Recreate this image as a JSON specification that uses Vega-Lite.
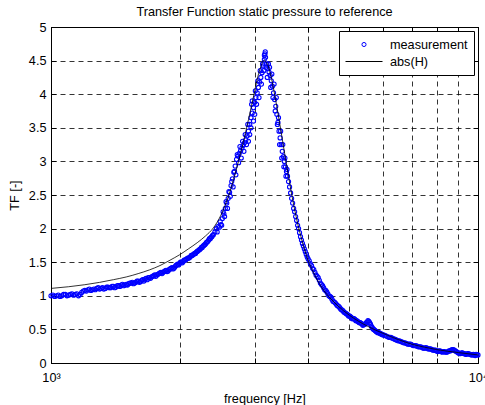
{
  "$schema": "https://vega.github.io/schema/vega-lite/v6.json",
  "width": 427,
  "height": 336,
  "autosize": {"type": "none"},
  "padding": {"left": 51, "top": 27, "right": 7, "bottom": 42},
  "background": "white",
  "title": {"text": "Transfer Function static pressure to reference", "fontSize": 12.7, "fontWeight": "normal", "font": "Liberation Sans", "color": "black", "offset": 2, "anchor": "middle"},
  "config": {
    "font": "Liberation Sans",
    "view": {"stroke": "black", "strokeWidth": 1},
    "axis": {
      "labelFont": "Liberation Sans", "titleFont": "Liberation Sans",
      "labelFontSize": 12.7, "titleFontSize": 12.7, "titleFontWeight": "normal",
      "labelColor": "black", "titleColor": "black",
      "domainColor": "black", "tickColor": "black", "tickSize": -5, "tickWidth": 1,
      "gridColor": "#000000", "gridDash": [5, 4], "gridWidth": 0.8, "gridOpacity": 1,
      "labelOverlap": false, "labelFlush": false
    }
  },
  "datasets": {
    "meas": [
      {"f":1000,"v":1.00},{"f":1020,"v":0.99},{"f":1040,"v":1.01},{"f":1060,"v":1.00},{"f":1080,"v":1.02},{"f":1100,"v":1.01},{"f":1120,"v":1.03},{"f":1140,"v":1.02},{"f":1160,"v":1.00},{"f":1180,"v":1.05},
      {"f":1200,"v":1.08},{"f":1220,"v":1.09},{"f":1240,"v":1.08},{"f":1260,"v":1.10},{"f":1280,"v":1.11},{"f":1300,"v":1.10},{"f":1320,"v":1.12},{"f":1340,"v":1.11},{"f":1360,"v":1.13},{"f":1380,"v":1.12},
      {"f":1400,"v":1.14},{"f":1420,"v":1.13},{"f":1440,"v":1.15},{"f":1460,"v":1.16},{"f":1480,"v":1.15},{"f":1500,"v":1.17},{"f":1520,"v":1.18},{"f":1540,"v":1.19},{"f":1560,"v":1.18},{"f":1580,"v":1.20},
      {"f":1600,"v":1.22},{"f":1620,"v":1.21},{"f":1640,"v":1.24},{"f":1660,"v":1.25},{"f":1680,"v":1.24},{"f":1700,"v":1.27},{"f":1720,"v":1.28},{"f":1740,"v":1.30},{"f":1760,"v":1.29},{"f":1780,"v":1.32},
      {"f":1800,"v":1.34},{"f":1820,"v":1.33},{"f":1840,"v":1.36},{"f":1860,"v":1.38},{"f":1880,"v":1.37},{"f":1900,"v":1.40},{"f":1920,"v":1.42},{"f":1940,"v":1.41},{"f":1960,"v":1.45},{"f":1980,"v":1.47},
      {"f":2000,"v":1.48},{"f":2020,"v":1.50},{"f":2040,"v":1.51},{"f":2060,"v":1.53},{"f":2080,"v":1.55},{"f":2100,"v":1.56},{"f":2120,"v":1.58},{"f":2140,"v":1.60},{"f":2160,"v":1.62},{"f":2180,"v":1.63},
      {"f":2200,"v":1.66},{"f":2220,"v":1.68},{"f":2240,"v":1.70},{"f":2260,"v":1.72},{"f":2280,"v":1.75},{"f":2300,"v":1.77},{"f":2320,"v":1.80},{"f":2340,"v":1.83},{"f":2360,"v":1.85},{"f":2380,"v":1.88},
      {"f":2400,"v":1.91},{"f":2420,"v":1.95},{"f":2440,"v":2.00},{"f":2460,"v":2.03},{"f":2480,"v":2.02},{"f":2500,"v":2.06},{"f":2520,"v":2.15},{"f":2540,"v":2.22},{"f":2560,"v":2.30},{"f":2580,"v":2.38},
      {"f":2600,"v":2.45},{"f":2620,"v":2.54},{"f":2640,"v":2.64},{"f":2660,"v":2.74},{"f":2680,"v":2.84},{"f":2700,"v":2.93},{"f":2720,"v":3.03},{"f":2740,"v":3.08},{"f":2760,"v":3.12},{"f":2780,"v":3.16},
      {"f":2800,"v":3.20},{"f":2820,"v":3.24},{"f":2840,"v":3.28},{"f":2860,"v":3.32},{"f":2880,"v":3.38},{"f":2900,"v":3.45},{"f":2920,"v":3.55},{"f":2940,"v":3.65},{"f":2960,"v":3.72},{"f":2980,"v":3.80},
      {"f":3000,"v":3.88},{"f":3020,"v":3.95},{"f":3040,"v":4.02},{"f":3060,"v":4.10},{"f":3080,"v":4.18},{"f":3100,"v":4.25},{"f":3120,"v":4.32},{"f":3140,"v":4.42},{"f":3160,"v":4.52},{"f":3170,"v":4.60},
      {"f":3175,"v":4.63},{"f":3180,"v":4.55},{"f":3200,"v":4.45},{"f":3220,"v":4.38},{"f":3240,"v":4.33},{"f":3260,"v":4.28},{"f":3280,"v":4.20},{"f":3300,"v":4.12},{"f":3320,"v":4.02},{"f":3340,"v":3.92},
      {"f":3360,"v":3.82},{"f":3380,"v":3.70},{"f":3400,"v":3.58},{"f":3420,"v":3.45},{"f":3440,"v":3.35},{"f":3460,"v":3.25},{"f":3480,"v":3.15},{"f":3500,"v":3.07},{"f":3520,"v":3.00},{"f":3540,"v":2.92},
      {"f":3560,"v":2.85},{"f":3580,"v":2.78},{"f":3600,"v":2.70},{"f":3620,"v":2.62},{"f":3640,"v":2.53},{"f":3660,"v":2.45},{"f":3680,"v":2.38},{"f":3700,"v":2.30},{"f":3720,"v":2.25},{"f":3740,"v":2.18},
      {"f":3760,"v":2.12},{"f":3780,"v":2.05},{"f":3800,"v":2.00},{"f":3820,"v":1.94},{"f":3840,"v":1.88},{"f":3860,"v":1.83},{"f":3880,"v":1.78},{"f":3900,"v":1.74},{"f":3920,"v":1.70},{"f":3940,"v":1.66},
      {"f":3960,"v":1.62},{"f":3980,"v":1.58},{"f":4000,"v":1.55},{"f":4050,"v":1.48},{"f":4100,"v":1.41},{"f":4150,"v":1.35},{"f":4200,"v":1.29},{"f":4250,"v":1.23},{"f":4300,"v":1.17},{"f":4350,"v":1.12},
      {"f":4400,"v":1.08},{"f":4450,"v":1.03},{"f":4500,"v":0.99},{"f":4550,"v":0.95},{"f":4600,"v":0.91},{"f":4650,"v":0.88},{"f":4700,"v":0.85},{"f":4750,"v":0.82},{"f":4800,"v":0.79},{"f":4850,"v":0.76},
      {"f":4900,"v":0.74},{"f":4950,"v":0.72},{"f":5000,"v":0.70},{"f":5050,"v":0.68},{"f":5100,"v":0.66},{"f":5150,"v":0.65},{"f":5200,"v":0.63},{"f":5250,"v":0.61},{"f":5300,"v":0.60},{"f":5350,"v":0.58},
      {"f":5400,"v":0.57},{"f":5450,"v":0.58},{"f":5500,"v":0.61},{"f":5550,"v":0.62},{"f":5600,"v":0.58},{"f":5650,"v":0.53},{"f":5700,"v":0.50},{"f":5750,"v":0.48},{"f":5800,"v":0.46},{"f":5850,"v":0.45},
      {"f":5900,"v":0.44},{"f":5950,"v":0.43},{"f":6000,"v":0.42},{"f":6100,"v":0.40},{"f":6200,"v":0.38},{"f":6300,"v":0.37},{"f":6400,"v":0.35},{"f":6500,"v":0.33},{"f":6600,"v":0.32},{"f":6700,"v":0.30},
      {"f":6800,"v":0.29},{"f":6900,"v":0.28},{"f":7000,"v":0.27},{"f":7100,"v":0.26},{"f":7200,"v":0.25},{"f":7300,"v":0.24},{"f":7400,"v":0.23},{"f":7500,"v":0.22},{"f":7600,"v":0.22},{"f":7700,"v":0.21},
      {"f":7800,"v":0.20},{"f":7900,"v":0.19},{"f":8000,"v":0.18},{"f":8100,"v":0.18},{"f":8200,"v":0.17},{"f":8300,"v":0.17},{"f":8400,"v":0.16},{"f":8500,"v":0.17},{"f":8600,"v":0.18},{"f":8700,"v":0.20},
      {"f":8800,"v":0.19},{"f":8900,"v":0.17},{"f":9000,"v":0.15},{"f":9100,"v":0.14},{"f":9200,"v":0.15},{"f":9300,"v":0.14},{"f":9400,"v":0.13},{"f":9500,"v":0.14},{"f":9600,"v":0.13},{"f":9700,"v":0.12},
      {"f":9800,"v":0.12},{"f":9900,"v":0.13},{"f":10000,"v":0.12},
      {"f":2450,"v":1.95},{"f":2490,"v":2.10},{"f":2510,"v":2.05},{"f":2530,"v":2.25},{"f":2550,"v":2.18},{"f":2570,"v":2.40},{"f":2590,"v":2.30},{"f":2610,"v":2.55},{"f":2630,"v":2.48},{"f":2650,"v":2.70},
      {"f":2670,"v":2.62},{"f":2690,"v":2.85},{"f":2710,"v":2.80},{"f":2730,"v":3.10},{"f":2750,"v":2.98},{"f":2770,"v":3.22},{"f":2790,"v":3.05},{"f":2810,"v":3.30},{"f":2830,"v":3.15},{"f":2850,"v":3.40},
      {"f":2870,"v":3.25},{"f":2890,"v":3.55},{"f":2900,"v":3.30},{"f":2920,"v":3.40},{"f":2940,"v":3.50},{"f":2950,"v":3.85},{"f":2960,"v":3.90},{"f":2980,"v":3.60},{"f":3000,"v":3.70},{"f":3010,"v":4.05},
      {"f":3030,"v":3.85},{"f":3050,"v":4.20},{"f":3070,"v":3.95},{"f":3090,"v":4.35},{"f":3110,"v":4.15},{"f":3130,"v":4.45},{"f":3150,"v":4.35},{"f":3160,"v":4.58},{"f":3190,"v":4.40},{"f":3210,"v":4.25},
      {"f":3230,"v":4.45},{"f":3250,"v":4.40},{"f":3270,"v":4.10},{"f":3290,"v":4.30},{"f":3310,"v":3.95},{"f":3330,"v":4.15},{"f":3350,"v":3.75},{"f":3370,"v":3.95},{"f":3390,"v":3.55},{"f":3410,"v":3.65},
      {"f":3430,"v":3.25},{"f":3450,"v":3.45},{"f":3470,"v":3.05},{"f":3490,"v":3.25},{"f":3510,"v":2.92},{"f":3530,"v":3.05},{"f":3550,"v":2.78},{"f":3570,"v":2.88},
      {"f":1010,"v":1.01},{"f":1030,"v":1.00},{"f":1050,"v":0.99},{"f":1070,"v":1.02},{"f":1090,"v":1.00},{"f":1110,"v":1.02},{"f":1130,"v":1.01},{"f":1150,"v":1.03},{"f":1170,"v":1.02},{"f":1190,"v":1.07},
      {"f":1210,"v":1.07},{"f":1230,"v":1.10},{"f":1250,"v":1.09},{"f":1270,"v":1.09},{"f":1290,"v":1.12},{"f":1310,"v":1.11},{"f":1330,"v":1.10},{"f":1350,"v":1.13},{"f":1370,"v":1.12},{"f":1390,"v":1.14},
      {"f":1410,"v":1.12},{"f":1430,"v":1.15},{"f":1450,"v":1.14},{"f":1470,"v":1.17},{"f":1490,"v":1.16},{"f":1510,"v":1.16},{"f":1530,"v":1.19},{"f":1550,"v":1.20},{"f":1570,"v":1.19},{"f":1590,"v":1.22},
      {"f":1610,"v":1.20},{"f":1630,"v":1.23},{"f":1650,"v":1.22},{"f":1670,"v":1.26},{"f":1690,"v":1.27},{"f":1710,"v":1.26},{"f":1730,"v":1.29},{"f":1750,"v":1.31},{"f":1770,"v":1.31},{"f":1790,"v":1.33},
      {"f":1810,"v":1.35},{"f":1830,"v":1.35},{"f":1850,"v":1.37},{"f":1870,"v":1.36},{"f":1890,"v":1.39},{"f":1910,"v":1.41},{"f":1930,"v":1.40},{"f":1950,"v":1.43},{"f":1970,"v":1.46},{"f":1990,"v":1.46},
      {"f":2010,"v":1.50},{"f":2030,"v":1.49},{"f":2050,"v":1.53},{"f":2070,"v":1.54},{"f":2090,"v":1.56},{"f":2110,"v":1.57},{"f":2130,"v":1.60},{"f":2150,"v":1.61},{"f":2170,"v":1.63},{"f":2190,"v":1.65},
      {"f":2210,"v":1.67},{"f":2230,"v":1.69},{"f":2250,"v":1.72},{"f":2270,"v":1.74},{"f":2290,"v":1.76},{"f":2310,"v":1.79},{"f":2330,"v":1.81},{"f":2350,"v":1.85},{"f":2370,"v":1.87},{"f":2390,"v":1.90},
      {"f":4025,"v":1.52},{"f":4075,"v":1.45},{"f":4125,"v":1.39},{"f":4175,"v":1.31},{"f":4225,"v":1.27},{"f":4275,"v":1.19},{"f":4325,"v":1.15},{"f":4375,"v":1.09},{"f":4425,"v":1.06},{"f":4475,"v":1.00},
      {"f":4525,"v":0.98},{"f":4575,"v":0.92},{"f":4625,"v":0.90},{"f":4675,"v":0.86},{"f":4725,"v":0.84},{"f":4775,"v":0.80},{"f":4825,"v":0.78},{"f":4875,"v":0.75},{"f":4925,"v":0.73},{"f":4975,"v":0.70},
      {"f":5025,"v":0.69},{"f":5075,"v":0.66},{"f":5125,"v":0.66},{"f":5175,"v":0.63},{"f":5225,"v":0.62},{"f":5275,"v":0.60},{"f":5325,"v":0.59},{"f":5375,"v":0.56},{"f":5425,"v":0.58},{"f":5475,"v":0.60},
      {"f":5525,"v":0.63},{"f":5575,"v":0.60},{"f":5625,"v":0.55},{"f":5675,"v":0.51},{"f":5725,"v":0.49},{"f":5775,"v":0.47},{"f":5825,"v":0.45},{"f":5875,"v":0.45},{"f":5925,"v":0.43},{"f":5975,"v":0.42},
      {"f":6050,"v":0.41},{"f":6150,"v":0.39},{"f":6250,"v":0.38},{"f":6350,"v":0.36},{"f":6450,"v":0.34},{"f":6550,"v":0.33},{"f":6650,"v":0.31},{"f":6750,"v":0.30},{"f":6850,"v":0.28},{"f":6950,"v":0.28},
      {"f":7050,"v":0.26},{"f":7150,"v":0.26},{"f":7250,"v":0.24},{"f":7350,"v":0.24},{"f":7450,"v":0.22},{"f":7550,"v":0.23},{"f":7650,"v":0.21},{"f":7750,"v":0.21},{"f":7850,"v":0.19},{"f":7950,"v":0.19},
      {"f":8050,"v":0.17},{"f":8150,"v":0.18},{"f":8250,"v":0.16},{"f":8350,"v":0.17},{"f":8450,"v":0.16},{"f":8550,"v":0.18},{"f":8650,"v":0.19},{"f":8750,"v":0.20},{"f":8850,"v":0.18},{"f":8950,"v":0.16},
      {"f":9050,"v":0.14},{"f":9150,"v":0.15},{"f":9250,"v":0.14},{"f":9350,"v":0.13},{"f":9450,"v":0.14},{"f":9550,"v":0.13},{"f":9650,"v":0.12},{"f":9750,"v":0.13},{"f":9850,"v":0.11},{"f":9950,"v":0.12}
    ],
    "fit": [
      {"f":1000,"v":1.11},{"f":1100,"v":1.135},{"f":1200,"v":1.165},{"f":1300,"v":1.20},{"f":1400,"v":1.24},{"f":1500,"v":1.28},{"f":1600,"v":1.33},{"f":1700,"v":1.385},{"f":1800,"v":1.45},{"f":1900,"v":1.53},
      {"f":2000,"v":1.61},{"f":2100,"v":1.70},{"f":2200,"v":1.79},{"f":2300,"v":1.89},{"f":2400,"v":2.01},{"f":2500,"v":2.20},{"f":2600,"v":2.47},{"f":2700,"v":2.82},{"f":2800,"v":3.20},{"f":2900,"v":3.62},
      {"f":3000,"v":4.05},{"f":3050,"v":4.26},{"f":3100,"v":4.41},{"f":3150,"v":4.50},{"f":3200,"v":4.47},{"f":3250,"v":4.35},{"f":3300,"v":4.17},{"f":3350,"v":3.95},{"f":3400,"v":3.72},{"f":3450,"v":3.48},
      {"f":3500,"v":3.24},{"f":3550,"v":3.00},{"f":3600,"v":2.78},{"f":3650,"v":2.56},{"f":3700,"v":2.36},{"f":3750,"v":2.18},{"f":3800,"v":2.02},{"f":3900,"v":1.75},{"f":4000,"v":1.53},{"f":4100,"v":1.37},
      {"f":4200,"v":1.24},{"f":4300,"v":1.13},{"f":4400,"v":1.04},{"f":4500,"v":0.97},{"f":4700,"v":0.85},{"f":5000,"v":0.71},{"f":5500,"v":0.55},{"f":6000,"v":0.44},{"f":6500,"v":0.35},{"f":7000,"v":0.28},
      {"f":7500,"v":0.235},{"f":8000,"v":0.20},{"f":9000,"v":0.155},{"f":10000,"v":0.12}
    ]
  },
  "layer": [
    {
      "data": {"name": "meas"},
      "mark": {"type": "point", "filled": false, "strokeWidth": 1.1, "opacity": 1},
      "encoding": {
        "x": {"field": "f", "type": "quantitative", "scale": {"type": "log", "domain": [1000, 10000], "nice": false},
              "axis": {"orient": "bottom", "values": [1000,2000,3000,4000,5000,6000,7000,8000,9000,10000],
                       "labelExpr": "datum.value == 1000 ? '10³' : (datum.value == 10000 ? '10⁴' : '')",
                       "title": "frequency [Hz]", "grid": true, "labelPadding": 13, "titlePadding": 9}},
        "y": {"field": "v", "type": "quantitative", "scale": {"domain": [0, 5], "nice": false},
              "axis": {"orient": "left", "values": [0,0.5,1,1.5,2,2.5,3,3.5,4,4.5,5], "format": "~g",
                       "title": "TF [-]", "grid": true, "labelPadding": 10, "titlePadding": 7}},
        "color": {"datum": "measurement", "type": "nominal",
                  "scale": {"domain": ["measurement", "abs(H)"], "range": ["#0000ff", "#000000"]},
                  "legend": {"title": null, "orient": "top-right", "offset": 4, "padding": 6,
                             "strokeColor": "black", "fillColor": "white",
                             "labelFont": "Liberation Sans", "labelFontSize": 12.7, "labelColor": "black",
                             "clipHeight": 15, "rowPadding": 2, "labelOffset": 7, "symbolStrokeWidth": 1}},
        "shape": {"datum": "measurement", "type": "nominal",
                  "scale": {"domain": ["measurement", "abs(H)"], "range": ["circle", "stroke"]},
                  "legend": {"title": null, "orient": "top-right", "offset": 4, "padding": 6,
                             "strokeColor": "black", "fillColor": "white",
                             "labelFont": "Liberation Sans", "labelFontSize": 12.7, "labelColor": "black",
                             "clipHeight": 15, "rowPadding": 2, "labelOffset": 7, "symbolStrokeWidth": 1}},
        "size": {"datum": "measurement", "type": "ordinal",
                 "scale": {"domain": ["measurement", "abs(H)"], "range": [17, 1369]},
                 "legend": {"title": null, "orient": "top-right", "offset": 4, "padding": 6,
                            "strokeColor": "black", "fillColor": "white",
                            "labelFont": "Liberation Sans", "labelFontSize": 12.7, "labelColor": "black",
                            "clipHeight": 15, "rowPadding": 2, "labelOffset": 7, "symbolStrokeWidth": 1}}
      }
    },
    {
      "data": {"name": "fit"},
      "mark": {"type": "line", "strokeWidth": 0.8, "interpolate": "monotone"},
      "encoding": {
        "x": {"field": "f", "type": "quantitative",
              "axis": {"orient": "top", "values": [1000,2000,3000,4000,5000,6000,7000,8000,9000,10000], "labels": false, "title": null, "grid": false}},
        "y": {"field": "v", "type": "quantitative",
              "axis": {"orient": "right", "values": [0,0.5,1,1.5,2,2.5,3,3.5,4,4.5,5], "labels": false, "title": null, "grid": false}},
        "color": {"datum": "abs(H)", "type": "nominal"}
      }
    }
  ],
  "resolve": {"axis": {"x": "independent", "y": "independent"}}
}
